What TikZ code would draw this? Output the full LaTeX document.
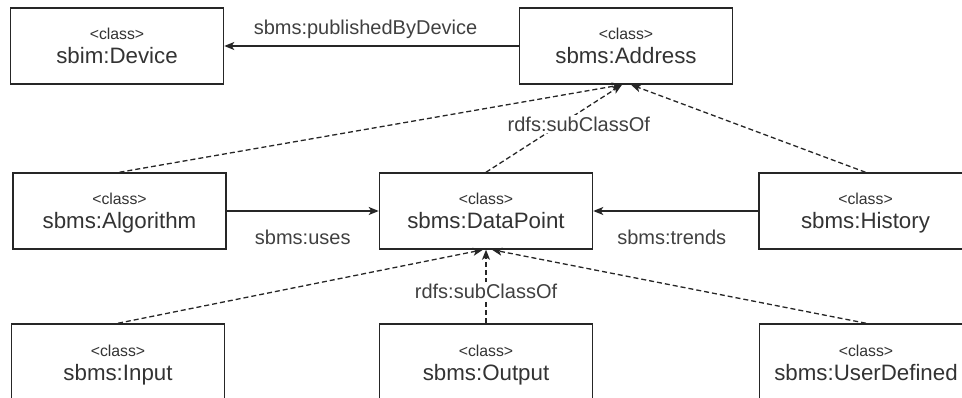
\documentclass[tikz,border=0pt]{standalone}
\usepackage{fontspec}
\setmainfont{Liberation Sans}
\usetikzlibrary{arrows.meta,calc}

\begin{document}
\begin{tikzpicture}[x=1pt,y=-1pt,
  cls/.style={draw=black!85, line width=1.5pt, fill=white,
    minimum width=213pt, minimum height=76pt, inner sep=0pt,
    align=center, text=black!80, font=\fontsize{22.3}{24}\selectfont,
    text height=36pt, text depth=0pt},
  rel/.style={line width=1.5pt, draw=black!85,
    -{Stealth[length=10pt,width=8pt,inset=2.5pt]}},
  sub/.style={rel, line width=1.3pt, dash pattern=on 5pt off 3pt},
  lbl/.style={font=\fontsize{20}{22}\selectfont, text=black!75,
    inner sep=2pt},
]
\useasboundingbox (0,0) rectangle (962,398);
\clip (0,0) rectangle (962,398);

\newcommand\stereo{{\fontsize{15.8}{24}\selectfont <class>}}

% classes
\node[cls] (device)    at (117,46)    {\stereo\\sbim:Device};
\node[cls] (address)   at (626,46)    {\stereo\\sbms:Address};
\node[cls] (algorithm) at (119.5,211) {\stereo\\sbms:Algorithm};
\node[cls] (datapoint) at (486,211)   {\stereo\\sbms:DataPoint};
\node[cls] (history)   at (865.5,211) {\stereo\\sbms:History};
\node[cls] (input)     at (118,362)   {\stereo\\sbms:Input};
\node[cls] (output)    at (486,362)   {\stereo\\sbms:Output};
\node[cls] (userdef)   at (866,362)   {\stereo\\sbms:UserDefined};

% object properties
\draw[rel] (address.west) -- (device.east)
  node[lbl, midway, above=5pt, xshift=-6pt] {sbms:publishedByDevice};
\draw[rel] (algorithm.east) -- (datapoint.west)
  node[lbl, midway, below=16pt] {sbms:uses};
\draw[rel] (history.west) -- (datapoint.east)
  node[lbl, midway, below=16pt, xshift=-4pt] {sbms:trends};

% subclass relations towards sbms:Address
\draw[sub] (algorithm.north) -- ($(address.south)+(-4,0)$);
\draw[sub] (history.north) -- ($(address.south)+(5,0)$);
\draw[sub] (datapoint.north) -- ($(address.south)+(-4,0)$)
  node[lbl, pos=0.55, xshift=18pt, fill=white] {rdfs:subClassOf};

% subclass relations towards sbms:DataPoint
\draw[sub] (input.north) -- ($(datapoint.south)+(-3,0)$);
\draw[sub] (userdef.north) -- ($(datapoint.south)+(6,0)$);
\draw[sub] (output.north) -- (datapoint.south)
  node[lbl, pos=0.43, fill=white] {rdfs:subClassOf};
\end{tikzpicture}
\end{document}
